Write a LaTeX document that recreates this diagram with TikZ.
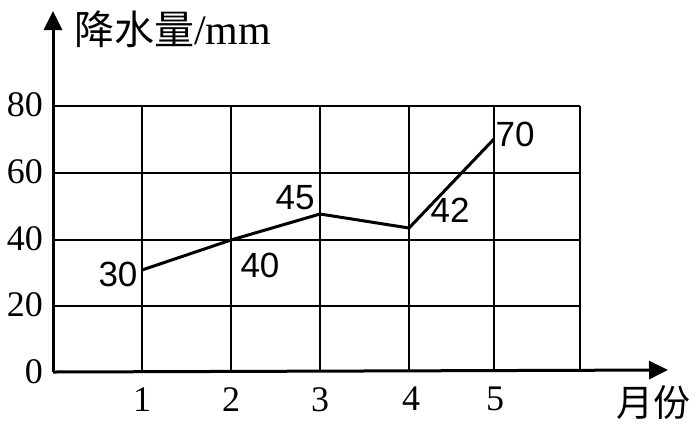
\documentclass[tikz,border=0pt]{standalone}
\usepackage{fontspec}
\setmainfont{Liberation Serif}
\newfontfamily\sansf{Liberation Sans}
\newfontfamily\cjk{Noto Sans CJK SC}
\usetikzlibrary{arrows.meta}
\begin{document}
\begin{tikzpicture}[x=1pt,y=-1pt,
  gridline/.style={line width=2.6pt},
  axisline/.style={line width=3pt,-{Triangle[length=19pt,width=18pt]}},
  dataline/.style={line width=3pt,line join=miter},
  ticklab/.style={font=\fontsize{36}{40}\selectfont,inner sep=0pt},
  datalab/.style={font=\sansf\fontsize{35}{40}\selectfont,inner sep=0pt},
  titlelab/.style={inner sep=0pt}]
\useasboundingbox (0,0) rectangle (700,432);
% grid
\foreach \yy in {106,173,240,306} \draw[gridline] (53,\yy) -- (580,\yy);
\foreach \xx in {142,231,320,409,494,580} \draw[gridline] (\xx,106) -- (\xx,372);
% axes
\coordinate (O) at (53,372);
\coordinate (ytop) at (53,11);
\coordinate (xend) at (668,370);
\draw[axisline] (O) -- (ytop);
\draw[axisline] (O) -- (xend);
% y labels
\node[ticklab,anchor=east] (y80) at (43,105) {80};
\node[ticklab,anchor=east] (y60) at (43,172) {60};
\node[ticklab,anchor=east] (y40) at (43,239) {40};
\node[ticklab,anchor=east] (y20) at (43,305) {20};
\node[ticklab,anchor=east] (y0) at (43,372) {0};
% x labels
\node[ticklab] (x1) at (142,400) {1};
\node[ticklab] (x2) at (231,400) {2};
\node[ticklab] (x3) at (320,400) {3};
\node[ticklab] (x4) at (411,399) {4};
\node[ticklab] (x5) at (495,399) {5};
% titles
\node[titlelab,anchor=base west] (ytitle) at (74,44) {\cjk\fontsize{40}{42}\selectfont 降水量\fontsize{42}{44}\selectfont\rmfamily/mm};
\node[titlelab,anchor=base west] (xtitle) at (616,416) {\cjk\fontsize{37}{40}\selectfont 月份};
% data
\coordinate (p1) at (142,270);
\coordinate (p2) at (231,240);
\coordinate (p3) at (320,214);
\coordinate (p4) at (409,228);
\coordinate (p5) at (494,139);
\draw[dataline] (p1) -- (p2) -- (p3) -- (p4) -- (p5);
\node[datalab] (l1) at (118,274) {30};
\node[datalab] (l2) at (260,265) {40};
\node[datalab] (l3) at (295,198) {45};
\node[datalab] (l4) at (450,210) {42};
\node[datalab] (l5) at (515,134) {70};
\end{tikzpicture}
\end{document}
